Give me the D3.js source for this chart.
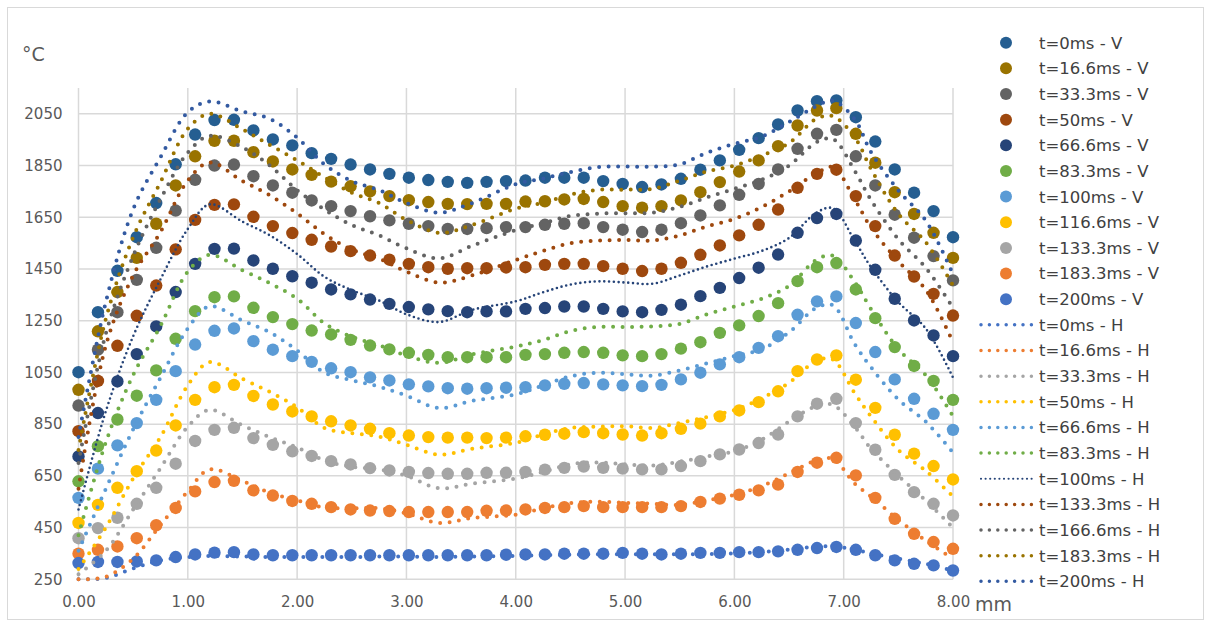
<!DOCTYPE html>
<html><head><meta charset="utf-8">
<script src="https://cdn.jsdelivr.net/npm/d3@7"></script>
<style>body{margin:0;background:#fff;} svg{display:block;}</style>
</head><body>
<svg id="c" width="1209" height="624"></svg>
<script>
// ---------- DATA ----------
const vLabels = ["t=0ms - V","t=16.6ms - V","t=33.3ms - V","t=50ms - V","t=66.6ms - V","t=83.3ms - V","t=100ms - V","t=116.6ms - V","t=133.3ms - V","t=183.3ms - V","t=200ms - V"];
const vColors = ["#255E91","#997300","#636363","#9E480E","#264478","#70AD47","#5B9BD5","#FFC000","#A5A5A5","#ED7D31","#4472C4"];
const hLabels = ["t=0ms - H","t=16.6ms - H","t=33.3ms - H","t=50ms - H","t=66.6ms - H","t=83.3ms - H","t=100ms - H","t=133.3ms - H","t=166.6ms - H","t=183.3ms - H","t=200ms - H"];
const hColors = ["#4472C4","#ED7D31","#A5A5A5","#FFC000","#5B9BD5","#70AD47","#264478","#9E480E","#636363","#997300","#335AA1"];

// V positions (mm): 46 measurement points from 0.00 to 8.00
const vX = [0,0.178,0.356,0.533,0.711,0.889,1.067,1.244,1.422,1.6,1.778,1.956,2.133,2.311,2.489,2.667,2.844,3.022,3.2,3.378,3.556,3.733,3.911,4.089,4.267,4.444,4.622,4.8,4.978,5.156,5.333,5.511,5.689,5.867,6.044,6.222,6.4,6.578,6.756,6.933,7.111,7.289,7.467,7.644,7.822,8];

const v0   = [1051,1283,1443,1573,1705,1855,1970,2026,2027,1986,1951,1928,1898,1876,1854,1835,1818,1803,1794,1787,1783,1787,1790,1792,1803,1803,1803,1790,1779,1767,1777,1799,1834,1870,1911,1956,2009,2063,2099,2102,2037,1943,1835,1745,1674,1573];
const v166 = [983,1209,1361,1493,1625,1773,1886,1946,1946,1902,1866,1835,1814,1788,1770,1750,1732,1716,1709,1702,1701,1702,1702,1711,1712,1719,1721,1709,1693,1687,1693,1715,1747,1786,1827,1870,1925,2005,2063,2072,1973,1861,1747,1663,1590,1493];
const v333 = [922,1138,1283,1408,1532,1676,1795,1850,1854,1809,1773,1745,1715,1693,1674,1654,1638,1625,1616,1605,1605,1608,1612,1612,1621,1625,1627,1612,1602,1593,1602,1627,1657,1696,1737,1779,1835,1915,1973,1988,1886,1773,1660,1571,1500,1406];
const v50  = [823,1017,1153,1269,1386,1526,1640,1698,1700,1652,1616,1589,1563,1537,1519,1502,1486,1470,1457,1451,1453,1453,1456,1457,1466,1470,1470,1461,1451,1442,1451,1474,1505,1541,1580,1621,1680,1764,1818,1834,1732,1616,1502,1421,1354,1270];
const v666 = [725,893,1015,1121,1228,1361,1470,1528,1529,1483,1451,1422,1397,1371,1352,1332,1315,1303,1294,1287,1283,1286,1286,1296,1299,1305,1305,1296,1286,1283,1292,1312,1345,1377,1415,1455,1506,1590,1647,1663,1560,1447,1335,1251,1193,1113];
const v833 = [629,765,868,960,1058,1180,1287,1341,1344,1300,1264,1237,1212,1197,1176,1154,1139,1126,1118,1109,1109,1109,1109,1118,1121,1126,1129,1126,1116,1113,1121,1142,1167,1203,1232,1268,1318,1403,1457,1473,1371,1260,1148,1075,1017,944];
const v100 = [565,678,768,854,944,1055,1158,1211,1220,1171,1138,1113,1091,1066,1051,1031,1019,1004,996,989,987,989,991,993,1000,1006,1009,1004,1000,997,1002,1023,1049,1081,1109,1145,1190,1273,1325,1344,1241,1129,1023,948,890,828];
const v1166= [468,538,604,668,748,845,944,993,1002,959,926,899,880,861,845,832,815,806,800,798,798,796,798,803,809,813,819,815,810,806,815,832,852,880,903,935,977,1055,1100,1116,1022,913,809,736,688,636];
const v1333= [409,448,488,542,604,697,785,828,836,796,770,745,727,707,694,680,671,665,661,658,658,662,662,665,674,681,686,681,678,675,675,688,707,733,752,777,810,880,929,948,854,751,654,587,542,497];
const v1833= [349,364,377,409,459,526,590,626,631,594,574,553,542,529,520,516,514,510,510,510,510,515,516,520,526,529,533,529,529,529,529,533,549,562,577,594,616,665,701,720,652,565,484,426,394,368];
const v200 = [313,317,317,319,323,336,346,353,355,346,343,343,343,343,343,343,343,343,343,343,343,343,345,346,346,349,349,349,352,349,346,349,352,352,355,355,358,364,371,375,364,343,323,310,304,284];

// H profile positions (mm)
const hX = [0,0.25,0.5,0.75,1.0,1.2,1.5,1.75,2.0,2.25,2.5,2.75,3.0,3.3,3.6,4.0,4.25,4.5,4.75,5.0,5.25,5.5,5.75,6.0,6.25,6.5,6.75,6.9,7.1,7.25,7.5,7.75,8.0];
const h0   = [250,255,292,323,336,340,338,336,336,336,336,338,338,336,338,340,343,345,347,347,347,347,348,350,355,365,376,378,365,350,330,310,283];
const h166 = [250,260,330,460,590,675,630,585,555,528,525,525,505,468,487,500,525,545,550,546,542,538,555,577,610,660,710,716,620,570,480,400,330];
const h333 = [270,360,520,680,840,905,845,800,760,710,685,675,650,602,620,640,665,695,702,695,690,705,725,745,790,860,920,925,840,755,650,555,450];
const h50  = [290,450,640,800,1000,1090,1025,975,915,835,815,802,770,732,755,778,810,835,840,842,835,855,878,905,950,1010,1095,1100,970,880,750,670,570];
const h666 = [360,600,830,1030,1220,1306,1250,1205,1135,1049,1020,995,960,912,940,965,1000,1035,1049,1043,1038,1058,1085,1113,1140,1205,1300,1310,1160,1070,945,860,740];
const h833 = [420,780,1040,1230,1440,1505,1445,1395,1335,1240,1188,1155,1115,1087,1120,1150,1175,1210,1226,1226,1228,1238,1275,1305,1335,1385,1485,1502,1400,1295,1140,1040,880];
const h100 = [520,900,1190,1410,1605,1700,1633,1580,1508,1420,1368,1328,1275,1245,1292,1325,1360,1390,1402,1398,1393,1425,1460,1490,1520,1570,1668,1685,1560,1457,1322,1220,1030];
const h1333= [600,1154,1425,1593,1792,1862,1790,1735,1665,1585,1525,1490,1440,1397,1425,1485,1520,1550,1560,1562,1560,1580,1615,1644,1690,1750,1820,1844,1720,1610,1480,1370,1167];
const h1666= [700,1200,1500,1720,1900,1965,1920,1850,1755,1680,1620,1580,1530,1491,1540,1600,1627,1655,1664,1666,1668,1690,1727,1760,1795,1850,1940,1953,1830,1717,1565,1455,1300];
const h1833= [750,1257,1573,1786,1992,2050,1990,1930,1870,1805,1745,1705,1640,1590,1620,1683,1706,1738,1756,1757,1760,1792,1827,1850,1889,1937,2031,2041,1960,1837,1663,1554,1386];
const h200 = [800,1322,1681,1882,2056,2098,2059,2031,1958,1855,1790,1755,1705,1668,1705,1778,1800,1825,1844,1846,1846,1855,1900,1934,1962,2018,2080,2101,2030,1902,1754,1638,1430];

const yTicks = [250,450,650,850,1050,1250,1450,1650,1850,2050];
const xTicks = [0,1,2,3,4,5,6,7,8];

const vSeries = [v0,v166,v333,v50,v666,v833,v100,v1166,v1333,v1833,v200];
const hSeries = [h0,h166,h333,h50,h666,h833,h100,h1333,h1666,h1833,h200];

// ---------- DRAW ----------
const svg = d3.select("#c");
const FONT = "DejaVu Sans, Liberation Sans, sans-serif";

// outer frame
svg.append("rect").attr("x",7.5).attr("y",7.5).attr("width",1196).attr("height",612)
  .attr("fill","#fff").attr("stroke","#d9d9d9").attr("stroke-width",1);

const x = d3.scaleLinear().domain([0,8]).range([78.5,953]);
const y = d3.scaleLinear().domain([250,2150]).range([579.3,88]);

const grid = svg.append("g");
grid.selectAll("line.h").data(yTicks).join("line")
  .attr("x1",x(0)).attr("x2",x(8)).attr("y1",d=>y(d)).attr("y2",d=>y(d))
  .attr("stroke","#d9d9d9").attr("stroke-width",1.5);
grid.selectAll("line.v").data(xTicks).join("line")
  .attr("y1",y(250)).attr("y2",y(2150)).attr("x1",d=>x(d)).attr("x2",d=>x(d))
  .attr("stroke","#d9d9d9").attr("stroke-width",1.5);

// axes (labels via d3 axes, domain/ticks hidden)
const yAxis = svg.append("g").attr("transform",`translate(${x(0)},0)`)
  .call(d3.axisLeft(y).tickValues(yTicks).tickSize(0).tickPadding(16).tickFormat(d3.format("d")));
const xAxis = svg.append("g").attr("transform",`translate(0,${y(250)})`)
  .call(d3.axisBottom(x).tickValues(xTicks).tickSize(0).tickPadding(17).tickFormat(d3.format(".2f")));
[yAxis,xAxis].forEach(a=>{
  a.select(".domain").remove();
  a.selectAll("text").attr("fill","#595959").style("font-family",FONT).style("font-size","15px");
});

svg.append("text").attr("x",22).attr("y",61).text("°C")
  .attr("fill","#595959").style("font-family",FONT).style("font-size","19px");
svg.append("text").attr("x",975).attr("y",611).text("mm")
  .attr("fill","#595959").style("font-family",FONT).style("font-size","19px");

// V series: markers
const plot = svg.append("g");
vSeries.forEach((vals,si)=>{
  plot.append("g").selectAll("circle").data(vals).join("circle")
    .attr("cx",(d,i)=>x(vX[i])).attr("cy",d=>y(d)).attr("r",6.2)
    .attr("fill",vColors[si]);
});

// H series: smoothed dotted lines
const line = d3.line().x((d,i)=>x(hX[i])).y(d=>y(d)).curve(d3.curveCatmullRom.alpha(0.5));
hSeries.forEach((vals,si)=>{
  const fine = si===6;
  plot.append("path").attr("d",line(vals)).attr("fill","none")
    .attr("stroke",hColors[si]).attr("stroke-width",fine?2.6:4)
    .attr("stroke-linecap","round").attr("stroke-dasharray",fine?"0 4.8":"0 9.5");
});

// legend
const lg = svg.append("g");
const rowY = k => 42.7 + k*25.65;
vLabels.forEach((t,k)=>{
  lg.append("circle").attr("cx",1006).attr("cy",rowY(k)).attr("r",6).attr("fill",vColors[k]);
  lg.append("text").attr("x",1039).attr("y",rowY(k)).attr("dy","0.36em").text(t)
    .attr("fill","#404040").style("font-family",FONT).style("font-size","16.5px");
});
hLabels.forEach((t,j)=>{
  const k = j+11, fine = j===6;
  lg.append("line").attr("x1",981).attr("x2",1032).attr("y1",rowY(k)).attr("y2",rowY(k))
    .attr("stroke",hColors[j]).attr("stroke-width",fine?2.2:3.5).attr("stroke-linecap","round")
    .attr("stroke-dasharray",fine?"0 4.6":"0 8.4");
  lg.append("text").attr("x",1039).attr("y",rowY(k)).attr("dy","0.36em").text(t)
    .attr("fill","#404040").style("font-family",FONT).style("font-size","16.5px");
});
</script>
</body></html>
